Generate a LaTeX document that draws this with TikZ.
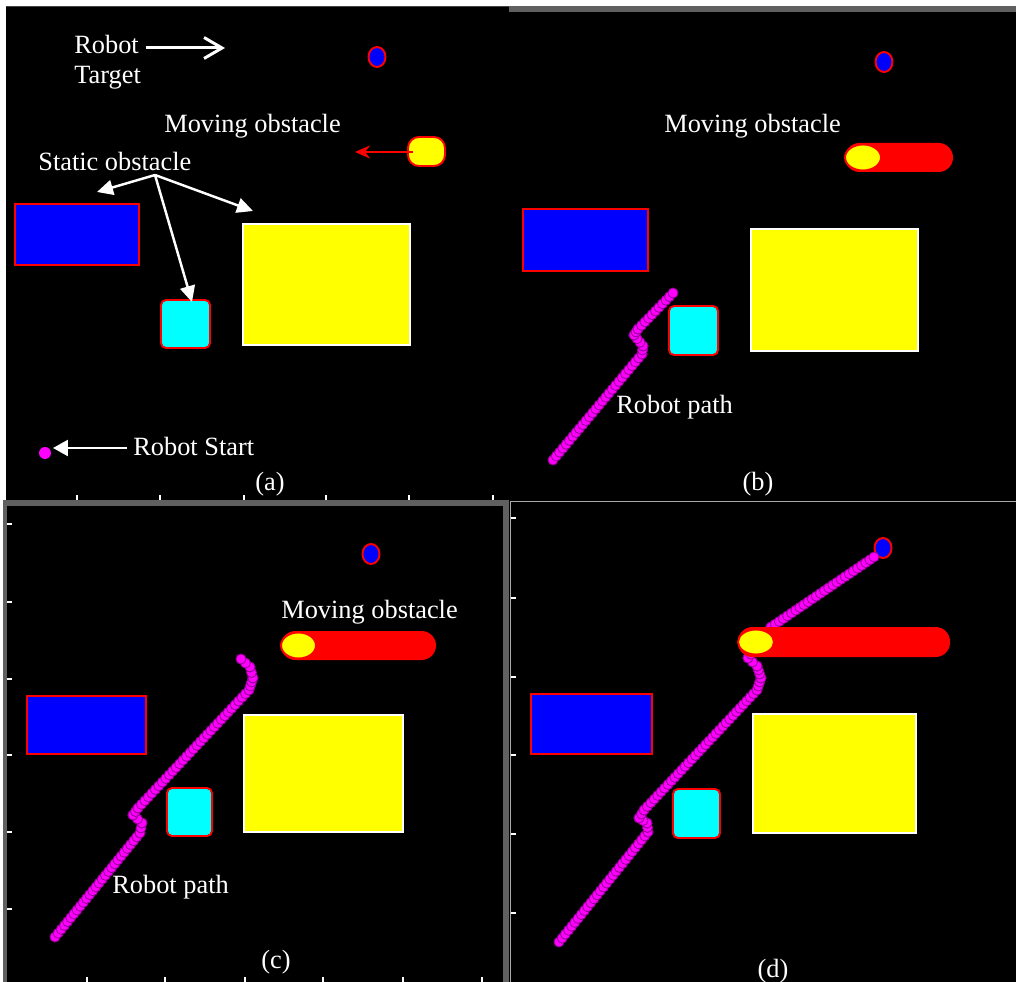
\documentclass[tikz,border=0pt]{standalone}
\usepackage{fontspec}
\setmainfont{Liberation Serif}
\usetikzlibrary{arrows.meta,calc}
\definecolor{framegray}{RGB}{96,96,96}
\definecolor{edgegray}{RGB}{170,170,170}
\definecolor{dotfill}{RGB}{255,0,255}
\definecolor{dotrim}{RGB}{150,0,150}
\definecolor{obsblue}{RGB}{0,0,255}
\definecolor{obscyan}{RGB}{0,255,255}
\definecolor{obsyellow}{RGB}{255,255,0}
\definecolor{obsred}{RGB}{255,0,0}
% one straight run of path beads
\newcommand{\beadrun}[3]{\foreach \k in {0,...,#3}{\filldraw[bead] ($#1!\k/#3!#2$) circle (0.1cm);}}
\begin{document}
\begin{tikzpicture}[x=0.02cm, y=-0.02cm,
  lbl/.style={text=white, inner sep=0pt, font=\fontsize{15}{17}\selectfont},
  staticblue/.style={fill=obsblue, draw=obsred, line width=1.1pt},
  staticcyan/.style={fill=obscyan, draw=obsred, line width=1.1pt, rounded corners=0.1cm},
  staticyellow/.style={fill=obsyellow, draw=white, line width=1.1pt},
  goal/.style={fill=obsblue, draw=obsred, line width=1.1pt},
  movblob/.style={fill=obsyellow, draw=obsred, line width=1.1pt},
  movtrack/.style={fill=obsred, rounded corners=0.29cm},
  callout/.style={white, line width=1.4pt, -{Triangle[length=0.32cm, width=0.3cm]}},
  tickmark/.style={white, line width=0.6pt},
  bead/.style={fill=dotfill, draw=dotrim, line width=0.5pt}]
  \useasboundingbox (0,0) rectangle (1016,982);
  % Backgrounds and frames
  \fill[white] (0,0) rectangle (1016,982);
  \fill[black] (6,6) rectangle (1016,500);
  \fill[black] (509,500) rectangle (1016,982);
  \fill[framegray] (3,500) rectangle (509,982);
  \fill[black] (7,506) rectangle (503,982);
  \fill[framegray] (509,6) rectangle (1016,12);
  \draw[framegray!70!black, line width=0.6pt] (6,6.5) -- (509,6.5);
  \draw[edgegray, line width=0.8pt] (510.5,982) -- (510.5,501.5) -- (1016,501.5);
  % Axis ticks
  \foreach \tx in {77,160,244,326,409,493} \draw[tickmark] (\tx,495) -- (\tx,500);
  \foreach \tx in {87,165,245,323,403,482} \draw[tickmark] (\tx,977) -- (\tx,982);
  \foreach \ty in {524,602,679,755,832,909} \draw[tickmark] (7,\ty) -- (12,\ty);
  \foreach \ty in {518,598,677,755,834,913} \draw[tickmark] (511,\ty) -- (516,\ty);

  % ---------- (a) ----------
  \filldraw[staticblue] (15,204) rectangle (139,265);
  \filldraw[staticcyan] (161,300) rectangle (210,348);
  \filldraw[staticyellow] (243,224) rectangle (410,345);
  \filldraw[goal] (377,57) ellipse (8.5 and 10);
  \filldraw[movblob, rounded corners=0.22cm] (408,137) rectangle (445,166);
  \node[fill=dotfill, circle, inner sep=0pt, minimum size=0.24cm] (starta) at (45,453) {};
  % Labels
  \node[lbl, anchor=north west, align=left] (tgtlbl) at (74,35) {Robot\\Target};
  \node[lbl, anchor=base west] (movlbla) at (164,133) {Moving obstacle};
  \node[lbl, anchor=base west] (staticlbl) at (38,171) {Static obstacle};
  \node[lbl, anchor=base west] (startlbl) at (133,456) {Robot Start};
  \node[lbl, anchor=base] (capa) at (270,490) {(a)};
  % Arrows
  \coordinate (tgtfrom) at (146,48);
  \coordinate (tgtto) at (225,48);
  \draw[white, line width=1.7pt, -{Straight Barb[length=0.36cm, width=0.42cm]}] (tgtfrom) -- (tgtto);
  \coordinate (movtail) at (413,152);
  \coordinate (movaim) at (355,152);
  \draw[obsred, line width=0.9pt, -{Stealth[length=0.3cm, width=0.26cm]}] (movtail) -- (movaim);
  \coordinate (statichub) at (155,175);
  \coordinate (aimblue) at (97,192);
  \coordinate (aimcyan) at (192,302);
  \coordinate (aimyellow) at (253,211);
  \draw[callout] (statichub) -- (aimblue);
  \draw[callout] (statichub) -- (aimcyan);
  \draw[callout] (statichub) -- (aimyellow);
  \coordinate (startfrom) at (127,448);
  \coordinate (startaim) at (53,448);
  \draw[callout, -{Triangle[length=0.3cm, width=0.32cm]}] (startfrom) -- (startaim);

  % ---------- (b) ----------
  \filldraw[staticblue] (523,209) rectangle (648,271);
  \filldraw[staticcyan] (669,306) rectangle (718,355);
  \filldraw[staticyellow] (751,229) rectangle (918,351);
  \filldraw[goal] (884,62) ellipse (8.5 and 10);
  \fill[movtrack] (845,143) rectangle (953,172);
  \filldraw[movblob] (863,157.5) ellipse (18 and 13);
  \beadrun{(553,460)}{(642,354)}{27}
  \beadrun{(642,354)}{(643,346)}{2}
  \beadrun{(643,346)}{(634,335)}{3}
  \beadrun{(634,335)}{(638,329)}{2}
  \beadrun{(638,329)}{(673,293)}{10}
  \node[lbl, anchor=base west] (movlblb) at (664,133) {Moving obstacle};
  \node[lbl, anchor=base west] (pathlblb) at (616,414) {Robot path};
  \node[lbl, anchor=base] (capb) at (758,490) {(b)};

  % ---------- (c) ----------
  \filldraw[staticblue] (27,696) rectangle (146,754);
  \filldraw[staticcyan] (167,788) rectangle (212,836);
  \filldraw[staticyellow] (244,715) rectangle (403,832);
  \filldraw[goal] (371,554) ellipse (8.5 and 10);
  \fill[movtrack] (281,631) rectangle (436,660);
  \filldraw[movblob] (298.5,645.5) ellipse (17.5 and 13);
  \beadrun{(55,937)}{(140,833)}{27}
  \beadrun{(140,833)}{(142,823)}{2}
  \beadrun{(142,823)}{(133,815)}{2}
  \beadrun{(133,815)}{(138,808)}{2}
  \beadrun{(138,808)}{(249,690)}{32}
  \beadrun{(249,690)}{(253,678)}{3}
  \beadrun{(253,678)}{(250,667)}{2}
  \beadrun{(250,667)}{(241,659)}{2}
  \node[lbl, anchor=base west] (movlblc) at (281,618) {Moving obstacle};
  \node[lbl, anchor=base west] (pathlblc) at (112,893) {Robot path};
  \node[lbl, anchor=base] (capc) at (276,968) {(c)};

  % ---------- (d) ----------
  \filldraw[staticblue] (531,694) rectangle (652,754);
  \filldraw[staticcyan] (673,789) rectangle (720,838);
  \filldraw[staticyellow] (753,714) rectangle (916,833);
  \filldraw[goal] (883,548) ellipse (8.5 and 10);
  \beadrun{(559,942)}{(648,832)}{28}
  \beadrun{(648,832)}{(647,823)}{2}
  \beadrun{(647,823)}{(639,818)}{2}
  \beadrun{(639,818)}{(644,810)}{2}
  \beadrun{(644,810)}{(757,690)}{33}
  \beadrun{(757,690)}{(761,678)}{3}
  \beadrun{(761,678)}{(757,666)}{3}
  \beadrun{(757,666)}{(748,658)}{2}
  \beadrun{(748,658)}{(771,627)}{8}
  \beadrun{(771,627)}{(874,557)}{25}
  \fill[movtrack] (738,627) rectangle (950,657);
  \filldraw[movblob] (756,642) ellipse (18 and 12.5);
  \node[lbl, anchor=base] (capd) at (773,977) {(d)};
\end{tikzpicture}
\end{document}
